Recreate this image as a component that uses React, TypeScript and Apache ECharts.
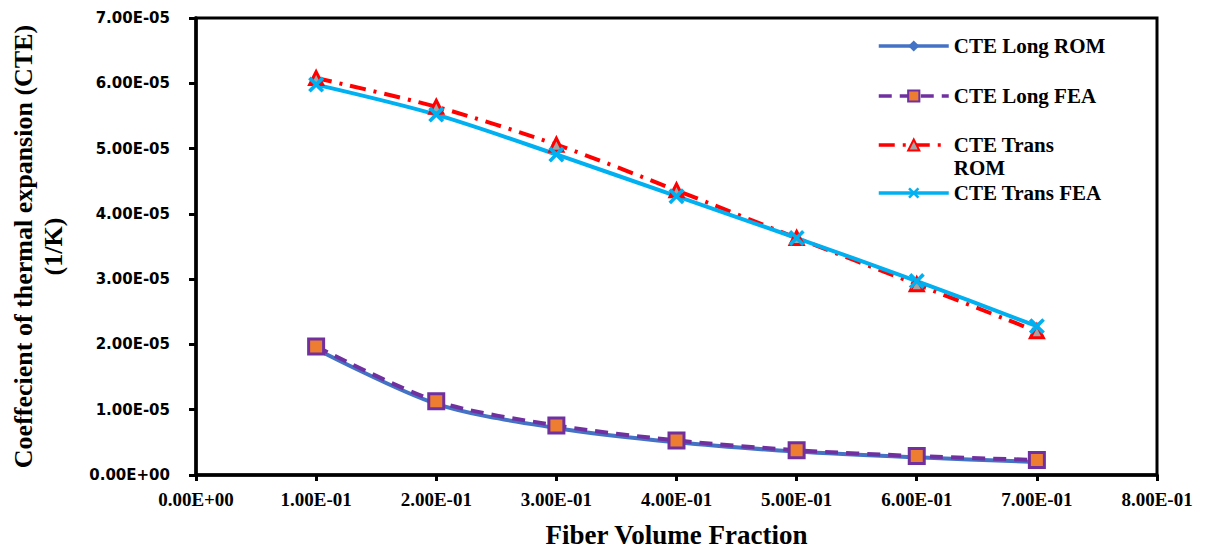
import React, { useEffect, useRef } from "react";
import * as echarts from "echarts";

// Fiber volume fraction (x) and coefficient of thermal expansion values (1/K)
const fiberFraction = [0.1, 0.2, 0.3, 0.4, 0.5, 0.6, 0.7];
const cteLongROM = [1.93e-5, 1.09e-5, 0.72e-5, 0.5e-5, 0.36e-5, 0.27e-5, 0.2e-5];
const cteLongFEA = [1.97e-5, 1.13e-5, 0.76e-5, 0.53e-5, 0.38e-5, 0.29e-5, 0.23e-5];
const cteTransROM = [6.08e-5, 5.64e-5, 5.06e-5, 4.36e-5, 3.63e-5, 2.92e-5, 2.2e-5];
const cteTransFEA = [5.98e-5, 5.52e-5, 4.91e-5, 4.27e-5, 3.63e-5, 2.97e-5, 2.28e-5];

const seriesNames = ["CTE Long ROM", "CTE Long FEA", "CTE Trans ROM", "CTE Trans FEA"];

// Excel-style scientific notation, e.g. 7.00E-05
const sci = (v: number) => {
  const [m, e] = v.toExponential(2).split("e");
  const n = parseInt(e, 10);
  return m + "E" + (n < 0 ? "-" : "+") + String(Math.abs(n)).padStart(2, "0");
};

const pairs = (ys: number[]) => fiberFraction.map((x, i) => [x, ys[i]]);

const crossSymbol =
  "path://M0,1.6 L1.6,0 L5,3.4 L8.4,0 L10,1.6 L6.6,5 L10,8.4 L8.4,10 L5,6.6 L1.6,10 L0,8.4 L3.4,5 Z";

const serif = "Liberation Serif";

export default function App() {
  const ref = useRef<HTMLDivElement>(null);

  useEffect(() => {
    if (!ref.current) return;
    const chart = echarts.init(ref.current, undefined, { renderer: "svg" });

    const legendText = {
      fontFamily: serif,
      fontWeight: "bold" as const,
      fontSize: 21,
      color: "#000",
      lineHeight: 23,
    };
    const legendCommon = {
      orient: "vertical" as const,
      left: 877,
      padding: 0,
      itemWidth: 70,
      itemHeight: 14,
      selectedMode: false,
      textStyle: legendText,
      lineStyle: { width: 3.5 },
    };

    chart.setOption({
      animation: false,
      backgroundColor: "#fff",
      grid: {
        left: 193,
        right: 51,
        top: 18,
        bottom: 76,
        show: true,
        borderColor: "#000",
        borderWidth: 3,
        containLabel: false,
      },
      legend: [
        { ...legendCommon, top: 34.5, data: [seriesNames[0]] },
        { ...legendCommon, top: 84.5, data: [seriesNames[1]] },
        {
          // two-line label whose first line sits level with the icon
          ...legendCommon,
          top: 110.5,
          data: [seriesNames[2]],
          formatter: () => "\nCTE Trans\nROM",
        },
        { ...legendCommon, top: 181.5, data: [seriesNames[3]] },
      ],
      xAxis: {
        type: "value",
        min: 0,
        max: 0.8,
        interval: 0.1,
        name: "Fiber Volume Fraction",
        nameLocation: "middle",
        nameGap: 46,
        nameTextStyle: { fontFamily: serif, fontWeight: "bold", fontSize: 27, color: "#000" },
        axisLine: { show: true, lineStyle: { color: "#000", width: 3.5 } },
        axisTick: { show: true, length: 6, lineStyle: { color: "#000", width: 3 } },
        axisLabel: {
          formatter: sci,
          margin: 15,
          fontFamily: serif,
          fontWeight: "bold",
          fontSize: 19,
          color: "#000",
        },
        splitLine: { show: false },
      },
      yAxis: {
        type: "value",
        min: 0,
        max: 7e-5,
        interval: 1e-5,
        name: "Coeffecient of thermal expansion (CTE)\n(1/K)",
        nameLocation: "middle",
        nameRotate: 90,
        nameGap: 128,
        nameTextStyle: {
          fontFamily: serif,
          fontWeight: "bold",
          fontSize: 26,
          lineHeight: 30,
          color: "#000",
        },
        axisLine: { show: true, lineStyle: { color: "#000", width: 3.5 } },
        axisTick: { show: true, length: 7, lineStyle: { color: "#000", width: 3 } },
        axisLabel: {
          formatter: sci,
          margin: 26,
          fontFamily: "DejaVu Sans",
          fontWeight: "bold",
          fontSize: 15,
          color: "#000",
        },
        splitLine: { show: false },
      },
      series: [
        {
          name: seriesNames[0],
          type: "line",
          data: pairs(cteLongROM),
          smooth: 0.3,
          symbol: "diamond",
          symbolSize: 10,
          lineStyle: { color: "#4472C4", width: 4 },
          itemStyle: { color: "#4472C4" },
        },
        {
          name: seriesNames[1],
          type: "line",
          data: pairs(cteLongFEA),
          smooth: 0.3,
          symbol: "rect",
          symbolSize: 15,
          lineStyle: { color: "#7030A0", width: 4, type: [13, 8] },
          itemStyle: { color: "#ED7D31", borderColor: "#7030A0", borderWidth: 3 },
        },
        {
          name: seriesNames[2],
          type: "line",
          data: pairs(cteTransROM),
          smooth: 0.3,
          symbol: "triangle",
          symbolSize: 13,
          lineStyle: { color: "#FF0000", width: 4, type: [16, 8, 3, 8] },
          itemStyle: { color: "#A5A5A5", borderColor: "#FF0000", borderWidth: 3 },
        },
        {
          name: seriesNames[3],
          type: "line",
          data: pairs(cteTransFEA),
          smooth: 0.3,
          symbol: crossSymbol,
          symbolSize: 16,
          lineStyle: { color: "#00B0F0", width: 4 },
          itemStyle: { color: "#00B0F0" },
        },
      ],
    });

    return () => chart.dispose();
  }, []);

  return (
    <div
      ref={ref}
      style={{ position: "fixed", left: 0, top: 0, width: 1208, height: 553 }}
    />
  );
}
